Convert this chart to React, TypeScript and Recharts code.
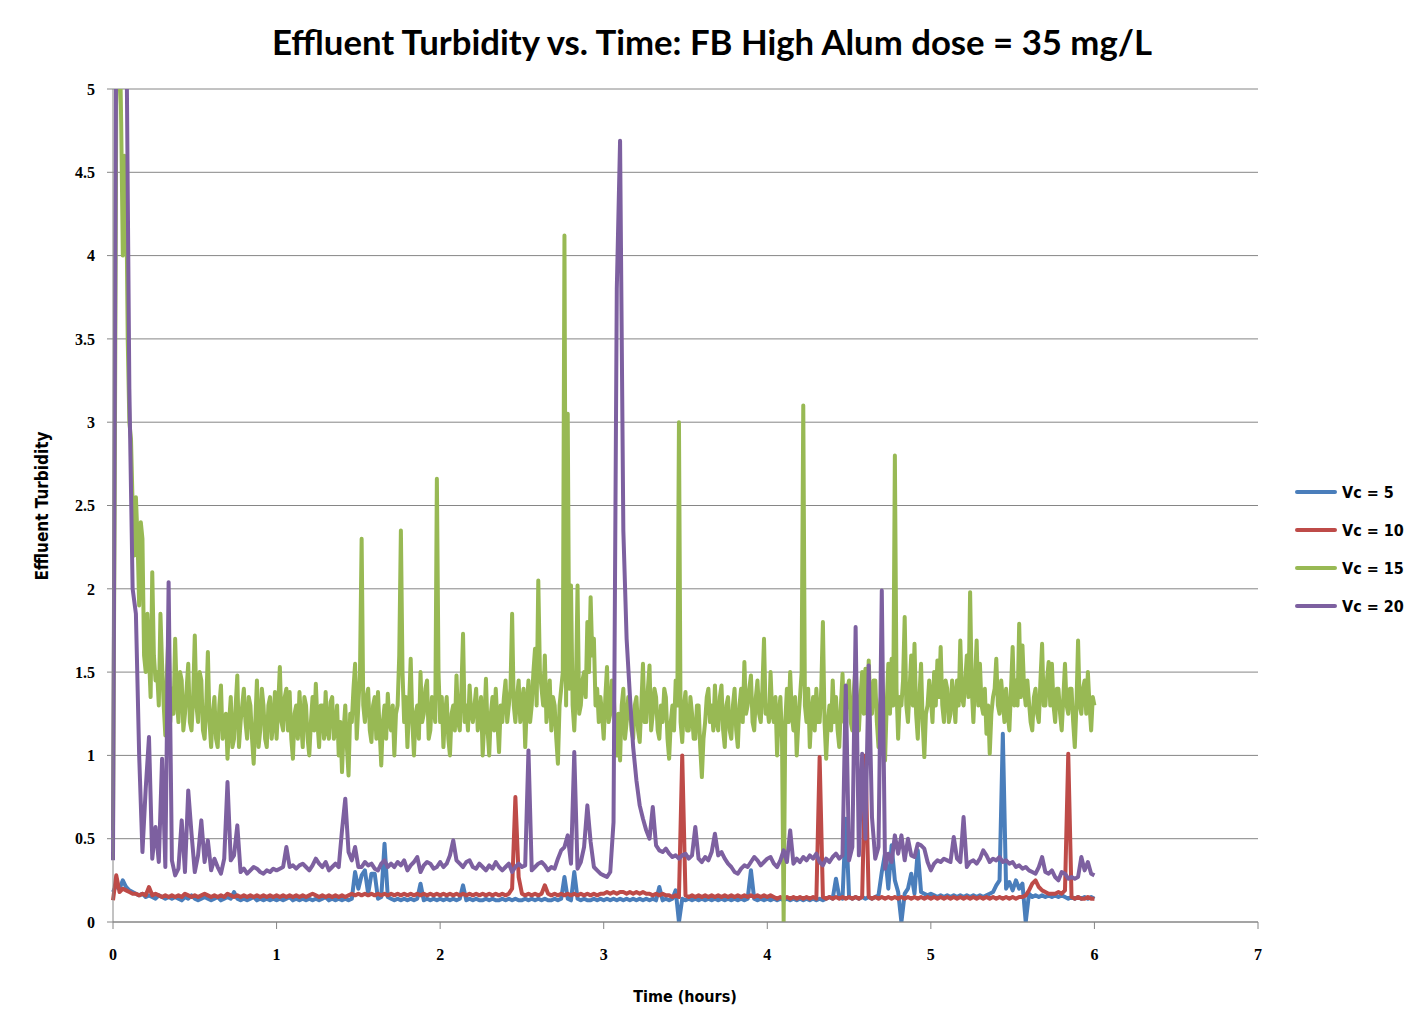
import { LineChart, Line, XAxis, YAxis, CartesianGrid, Legend } from 'recharts'

// Vc = 15 was logged every 0.01 h, the other runs every 0.02 h
const STEP_FINE = 0.01
const STEP = 0.02

const VC5 = [
  0.18, 0.22, 0.2, 0.25, 0.21, 0.19, 0.18, 0.17, 0.16, 0.17,
  0.15, 0.16, 0.15, 0.14, 0.16, 0.15, 0.14, 0.15, 0.14, 0.15,
  0.14, 0.13, 0.15, 0.14, 0.16, 0.14, 0.13, 0.14, 0.15, 0.14,
  0.13, 0.14, 0.15, 0.13, 0.14, 0.15, 0.14, 0.18, 0.14, 0.13,
  0.14, 0.13, 0.14, 0.15, 0.13, 0.14, 0.13, 0.14, 0.13, 0.14,
  0.13, 0.14, 0.13, 0.14, 0.15, 0.13, 0.14, 0.13, 0.14, 0.13,
  0.14, 0.13, 0.14, 0.13, 0.14, 0.15, 0.13, 0.14, 0.13, 0.14,
  0.13, 0.14, 0.13, 0.14, 0.3, 0.2, 0.28, 0.31, 0.17, 0.29,
  0.29, 0.14, 0.15, 0.47, 0.15, 0.14, 0.13, 0.14, 0.13, 0.14,
  0.13, 0.14, 0.13, 0.14, 0.23, 0.13, 0.14, 0.13, 0.14, 0.13,
  0.14, 0.13, 0.14, 0.13, 0.14, 0.13, 0.14, 0.22, 0.13, 0.14,
  0.13, 0.14, 0.13, 0.13, 0.14, 0.13, 0.14, 0.13, 0.13, 0.14,
  0.13, 0.14, 0.13, 0.14, 0.13, 0.13, 0.14, 0.13, 0.14, 0.13,
  0.14, 0.13, 0.14, 0.13, 0.13, 0.14, 0.13, 0.14, 0.27, 0.14,
  0.13, 0.3, 0.14, 0.13, 0.14, 0.13, 0.13, 0.14, 0.13, 0.14,
  0.13, 0.14, 0.13, 0.14, 0.13, 0.14, 0.13, 0.14, 0.13, 0.14,
  0.13, 0.14, 0.13, 0.14, 0.13, 0.14, 0.13, 0.21, 0.13, 0.14,
  0.13, 0.14, 0.19, 0.0, 0.14, 0.13, 0.14, 0.13, 0.14, 0.13,
  0.14, 0.13, 0.14, 0.13, 0.14, 0.13, 0.14, 0.13, 0.14, 0.13,
  0.14, 0.13, 0.14, 0.13, 0.14, 0.31, 0.14, 0.13, 0.14, 0.13,
  0.14, 0.13, 0.14, 0.13, 0.14, 0.13, 0.14, 0.13, 0.14, 0.13,
  0.14, 0.13, 0.14, 0.13, 0.14, 0.13, 0.14, 0.13, 0.14, 0.15,
  0.14, 0.26, 0.15, 0.14, 0.62, 0.15, 0.14, 0.15, 0.14, 0.15,
  0.14, 0.15, 0.14, 0.15, 0.16, 0.3, 0.41, 0.2, 0.46, 0.25,
  0.18, 0.0, 0.17, 0.2, 0.29, 0.17, 0.43, 0.18, 0.17, 0.16,
  0.17, 0.16, 0.15, 0.16, 0.15, 0.16, 0.15, 0.16, 0.15, 0.16,
  0.15, 0.16, 0.15, 0.16, 0.15, 0.16, 0.15, 0.16, 0.17, 0.18,
  0.22, 0.25, 1.13, 0.2, 0.24, 0.19, 0.25, 0.2, 0.23, 0.0,
  0.17, 0.15, 0.16, 0.15, 0.16, 0.15, 0.16, 0.15, 0.16, 0.15,
  0.16, 0.15, 0.14, 0.15, 0.14, 0.15, 0.14, 0.15, 0.14, 0.15,
  0.14,
]

const VC10 = [
  0.13, 0.28, 0.18, 0.2, 0.19, 0.18, 0.17, 0.17, 0.16, 0.17,
  0.16, 0.21, 0.16, 0.17, 0.16, 0.15, 0.16, 0.15, 0.16, 0.15,
  0.16, 0.15, 0.17, 0.16, 0.15, 0.16, 0.15, 0.16, 0.17, 0.16,
  0.15, 0.16, 0.15, 0.16, 0.15, 0.17, 0.16, 0.15, 0.16, 0.15,
  0.16, 0.15, 0.16, 0.15, 0.16, 0.15, 0.16, 0.15, 0.16, 0.15,
  0.16, 0.15, 0.16, 0.15, 0.16, 0.15, 0.16, 0.15, 0.16, 0.15,
  0.16, 0.17, 0.16, 0.15, 0.16, 0.15, 0.16, 0.15, 0.16, 0.15,
  0.16, 0.15, 0.16, 0.17, 0.16, 0.17, 0.16, 0.17, 0.16, 0.17,
  0.16, 0.17, 0.16, 0.17, 0.16, 0.17, 0.16, 0.17, 0.16, 0.17,
  0.16, 0.17, 0.16, 0.17, 0.16, 0.17, 0.16, 0.17, 0.16, 0.17,
  0.16, 0.17, 0.16, 0.17, 0.16, 0.17, 0.16, 0.17, 0.16, 0.17,
  0.16, 0.17, 0.16, 0.17, 0.16, 0.17, 0.16, 0.17, 0.16, 0.17,
  0.16, 0.17, 0.2, 0.75, 0.27, 0.17, 0.16, 0.17, 0.16, 0.17,
  0.16, 0.17, 0.22, 0.17, 0.16, 0.17, 0.16, 0.17, 0.16, 0.17,
  0.16, 0.17, 0.16, 0.17, 0.16, 0.17, 0.16, 0.17, 0.16, 0.17,
  0.17, 0.18, 0.17, 0.18, 0.17, 0.18, 0.18, 0.17, 0.18, 0.17,
  0.18, 0.17, 0.18, 0.17, 0.17, 0.16, 0.17, 0.16, 0.17, 0.16,
  0.16, 0.15, 0.16, 0.15, 1.0, 0.16, 0.15, 0.16, 0.15, 0.16,
  0.15, 0.16, 0.15, 0.16, 0.15, 0.16, 0.15, 0.16, 0.15, 0.16,
  0.15, 0.16, 0.15, 0.16, 0.15, 0.16, 0.15, 0.16, 0.15, 0.16,
  0.15, 0.16, 0.15, 0.14, 0.15, 0.14, 0.15, 0.14, 0.15, 0.14,
  0.15, 0.14, 0.15, 0.14, 0.15, 0.14, 0.99, 0.15, 0.14, 0.15,
  0.14, 0.15, 0.14, 0.15, 0.14, 0.15, 0.14, 0.15, 0.14, 0.15,
  1.0, 0.15, 0.14, 0.15, 0.14, 0.15, 0.14, 0.15, 0.14, 0.15,
  0.14, 0.15, 0.14, 0.15, 0.14, 0.15, 0.14, 0.15, 0.14, 0.15,
  0.14, 0.15, 0.14, 0.15, 0.14, 0.15, 0.14, 0.15, 0.14, 0.15,
  0.14, 0.15, 0.14, 0.15, 0.14, 0.15, 0.14, 0.15, 0.14, 0.15,
  0.14, 0.15, 0.14, 0.15, 0.14, 0.15, 0.14, 0.15, 0.15, 0.16,
  0.19, 0.23, 0.25, 0.21, 0.19, 0.18, 0.17, 0.17, 0.17, 0.18,
  0.17, 0.19, 1.01, 0.15, 0.14, 0.15, 0.14, 0.14, 0.15, 0.14,
  0.14,
]

// one row = 0.2 h
const VC15 = [
  0.55, 2.5, 4.9, 5.3, 5.4, 4.8, 4.0, 4.6, 4.5, 3.5, 3.0, 2.9, 2.5, 2.2, 2.55, 2.3, 1.9, 2.4, 2.3, 1.6,
  1.5, 1.85, 1.6, 1.35, 2.1, 1.6, 1.45, 1.5, 1.3, 1.85, 1.55, 1.3, 1.12, 1.5, 1.75, 1.2, 1.4, 1.25, 1.7, 1.35,
  1.2, 1.5, 1.45, 1.15, 1.25, 1.4, 1.55, 1.2, 1.15, 1.35, 1.72, 1.3, 1.2, 1.5, 1.45, 1.15, 1.1, 1.3, 1.62, 1.2,
  1.05, 1.25, 1.35, 1.1, 1.05, 1.3, 1.42, 1.1, 1.15, 1.25, 0.98, 1.2, 1.35, 1.05, 1.1, 1.3, 1.48, 1.05, 1.2, 1.3,
  1.4, 1.2, 1.1, 1.35, 1.3, 1.1, 0.95, 1.2, 1.45, 1.05, 1.15, 1.4, 1.3, 1.1, 1.05, 1.3, 1.35, 1.1, 1.2, 1.38,
  1.1, 1.3, 1.53, 1.2, 1.15, 1.35, 1.4, 1.15, 1.38, 1.1, 0.98, 1.25, 1.3, 1.1, 1.38, 1.2, 1.05, 1.35, 1.3, 1.1,
  1.0, 1.2, 1.35, 1.15, 1.43, 1.2, 1.05, 1.3, 1.3, 1.1, 1.38, 1.15, 1.1, 1.32, 1.35, 1.1, 1.15, 1.3, 1.0, 1.2,
  0.9, 1.15, 1.3, 1.05, 0.88, 1.25, 1.2, 1.4, 1.55, 1.1, 1.3, 1.5, 2.3, 1.3, 1.2, 1.35, 1.4, 1.15, 1.08, 1.3,
  1.35, 1.1, 1.38, 1.15, 0.94, 1.2, 1.3, 1.1, 1.37, 1.2, 1.15, 1.3, 1.0, 1.25, 1.3, 1.6, 2.35, 1.5, 1.2, 1.35,
  1.05, 1.3, 1.58, 1.2, 1.0, 1.25, 1.3, 1.1, 1.5, 1.2, 1.25, 1.4, 1.45, 1.1, 1.15, 1.35, 1.3, 1.2, 2.66, 1.5,
  1.2, 1.35, 1.05, 1.25, 1.35, 1.1, 1.0, 1.25, 1.3, 1.15, 1.48, 1.2, 1.15, 1.4, 1.73, 1.2, 1.3, 1.15, 1.42, 1.25,
  1.2, 1.3, 1.4, 1.15, 1.25, 1.35, 1.0, 1.2, 1.46, 1.15, 1.0, 1.25, 1.35, 1.15, 1.4, 1.2, 1.02, 1.3, 1.2, 1.35,
  1.45, 1.2, 1.3, 1.4, 1.85, 1.3, 1.2, 1.35, 1.45, 1.2, 1.3, 1.4, 1.05, 1.3, 1.45, 1.2, 1.3, 1.5, 1.64, 1.3,
  2.05, 1.5, 1.4, 1.3, 1.6, 1.2, 1.3, 1.45, 1.15, 1.35, 1.3, 1.1, 0.95, 1.3, 1.4, 1.5, 4.12, 1.3, 3.05, 1.4,
  2.02, 1.3, 1.15, 1.4, 2.02, 1.25, 1.3, 1.45, 1.5, 1.35, 1.8, 1.5, 1.95, 1.6, 1.7, 1.3, 1.4, 1.2, 1.35, 1.25,
  1.1, 1.35, 1.53, 1.2, 1.25, 1.45, 1.4, 1.15, 1.0, 1.25, 0.97, 1.3, 1.4, 1.1, 1.2, 1.35, 1.3, 1.15, 1.1, 1.3,
  1.35, 1.15, 1.08, 1.3, 1.55, 1.2, 1.2, 1.4, 1.54, 1.15, 1.25, 1.4, 1.35, 1.15, 1.1, 1.3, 1.2, 1.4, 1.35, 1.1,
  0.98, 1.2, 1.3, 1.15, 1.45, 1.3, 3.0, 1.2, 1.08, 1.3, 1.38, 1.15, 1.15, 1.35, 1.25, 1.1, 1.1, 1.3, 1.3, 1.05,
  0.87, 1.1, 1.2, 1.35, 1.4, 1.2, 1.3, 1.15, 1.42, 1.2, 1.15, 1.35, 1.42, 1.15, 1.05, 1.3, 1.35, 1.15, 1.1, 1.3,
  1.4, 1.15, 1.05, 1.3, 1.4, 1.2, 1.56, 1.25, 1.3, 1.4, 1.48, 1.2, 1.15, 1.35, 1.45, 1.25, 1.2, 1.4, 1.7, 1.25,
  1.3, 1.2, 1.5, 1.25, 1.2, 1.35, 1.0, 1.25, 1.35, 1.1, 0.0, 1.2, 1.4, 1.2, 1.5, 1.25, 1.15, 1.35, 1.0, 1.2,
  1.35, 1.5, 3.1, 1.3, 1.2, 1.4, 1.05, 1.25, 1.35, 1.15, 1.4, 1.2, 1.2, 1.4, 1.8, 1.2, 0.98, 1.2, 1.3, 1.15,
  1.45, 1.2, 1.35, 1.15, 1.05, 1.3, 1.49, 1.2, 1.25, 1.4, 1.45, 1.2, 1.15, 1.4, 1.55, 1.25, 1.15, 1.35, 1.5, 1.25,
  1.52, 1.25, 1.57, 1.3, 1.25, 1.45, 1.45, 1.2, 1.05, 1.3, 1.4, 1.15, 0.97, 1.3, 1.55, 1.25, 1.58, 1.3, 2.8, 1.4,
  1.1, 1.35, 1.3, 1.45, 1.83, 1.3, 1.2, 1.4, 1.6, 1.3, 1.67, 1.25, 1.1, 1.35, 1.55, 1.2, 0.99, 1.25, 1.3, 1.45,
  1.35, 1.2, 1.5, 1.3, 1.57, 1.35, 1.65, 1.3, 1.2, 1.45, 1.4, 1.2, 1.25, 1.45, 1.35, 1.2, 1.45, 1.3, 1.69, 1.35,
  1.3, 1.45, 1.6, 1.35, 1.98, 1.4, 1.2, 1.45, 1.69, 1.3, 1.55, 1.3, 1.25, 1.4, 1.13, 1.3, 1.01, 1.25, 1.35, 1.4,
  1.58, 1.3, 1.25, 1.45, 1.33, 1.2, 1.4, 1.25, 1.15, 1.4, 1.65, 1.3, 1.45, 1.3, 1.79, 1.35, 1.66, 1.4, 1.3, 1.45,
  1.32, 1.2, 1.15, 1.35, 1.4, 1.25, 1.2, 1.45, 1.67, 1.3, 1.3, 1.45, 1.56, 1.3, 1.55, 1.3, 1.2, 1.4, 1.4, 1.25,
  1.15, 1.35, 1.55, 1.3, 1.25, 1.4, 1.4, 1.2, 1.05, 1.3, 1.69, 1.3, 1.25, 1.4, 1.45, 1.25, 1.5, 1.3, 1.15, 1.35,
  1.3,
]

const VC20 = [
  0.37, 5.5, 6.0, 6.0, 5.6, 3.2, 2.0, 1.85, 1.0, 0.42,
  0.8, 1.11, 0.38, 0.57, 0.36, 0.98, 0.33, 2.04, 0.37, 0.28,
  0.32, 0.61, 0.3, 0.79, 0.53, 0.3, 0.4, 0.61, 0.36, 0.49,
  0.31, 0.38, 0.33, 0.29, 0.38, 0.84, 0.37, 0.4, 0.58, 0.3,
  0.32, 0.29, 0.31, 0.33, 0.32, 0.3, 0.29, 0.31, 0.3, 0.32,
  0.31, 0.32, 0.33, 0.45, 0.33, 0.34, 0.32, 0.34, 0.35, 0.33,
  0.31, 0.34, 0.38, 0.35, 0.33, 0.36, 0.31, 0.33, 0.35, 0.33,
  0.55, 0.74, 0.42, 0.37, 0.45, 0.33, 0.33, 0.36, 0.34, 0.35,
  0.32, 0.31, 0.35, 0.37, 0.33, 0.35, 0.33, 0.36, 0.34, 0.37,
  0.31, 0.34, 0.36, 0.39, 0.3, 0.34, 0.36, 0.35, 0.32, 0.33,
  0.36, 0.33, 0.35, 0.4, 0.49, 0.37, 0.35, 0.33, 0.36, 0.37,
  0.33, 0.32, 0.35, 0.33, 0.31, 0.34, 0.32, 0.36, 0.33, 0.31,
  0.33, 0.35, 0.3, 0.33, 0.35, 0.33, 0.34, 1.03, 0.31, 0.33,
  0.35, 0.36, 0.34, 0.31, 0.33, 0.32, 0.38, 0.43, 0.45, 0.52,
  0.35, 1.02, 0.32, 0.36, 0.45, 0.7, 0.48, 0.33, 0.31, 0.29,
  0.28, 0.27, 0.3, 0.6, 3.8, 4.69, 2.35, 1.7, 1.36, 1.05,
  0.85, 0.7, 0.62, 0.55, 0.5, 0.69, 0.46, 0.43, 0.42, 0.44,
  0.41, 0.39, 0.4, 0.38, 0.4, 0.41, 0.38, 0.4, 0.57, 0.38,
  0.36, 0.39, 0.37, 0.42, 0.53, 0.4, 0.42, 0.38, 0.35, 0.33,
  0.3, 0.29, 0.32, 0.34, 0.33, 0.36, 0.39, 0.37, 0.34, 0.36,
  0.38, 0.39, 0.35, 0.33, 0.37, 0.43, 0.36, 0.55, 0.35, 0.38,
  0.36, 0.39, 0.37, 0.4, 0.38, 0.41, 0.36, 0.34, 0.38, 0.36,
  0.39, 0.41, 0.38, 0.4, 1.42, 0.37, 0.45, 1.77, 0.4, 1.01,
  0.5, 1.54, 0.63, 0.38, 0.45, 1.99, 0.32, 0.41, 0.36, 0.52,
  0.41, 0.52, 0.37, 0.5, 0.4, 0.39, 0.47, 0.46, 0.44, 0.36,
  0.31, 0.35, 0.37, 0.36, 0.38, 0.37, 0.36, 0.51, 0.38, 0.36,
  0.63, 0.33, 0.36, 0.37, 0.35, 0.38, 0.43, 0.4, 0.36, 0.38,
  0.37, 0.39, 0.36, 0.37, 0.35, 0.36, 0.33, 0.34, 0.32, 0.33,
  0.31, 0.3, 0.29, 0.33, 0.39, 0.3, 0.29, 0.31, 0.27, 0.25,
  0.3, 0.29, 0.26, 0.27, 0.26, 0.27, 0.39, 0.31, 0.36, 0.29,
  0.28,
]

const SERIES = [
  { key: 'vc5', name: 'Vc = 5', color: '#4A7EBB', step: STEP, values: VC5 },
  { key: 'vc10', name: 'Vc = 10', color: '#BE4B48', step: STEP, values: VC10 },
  { key: 'vc15', name: 'Vc = 15', color: '#98B954', step: STEP_FINE, values: VC15 },
  { key: 'vc20', name: 'Vc = 20', color: '#7D60A0', step: STEP, values: VC20 },
]

const X_TICKS = [0, 1, 2, 3, 4, 5, 6, 7]
const Y_TICKS = [0, 0.5, 1, 1.5, 2, 2.5, 3, 3.5, 4, 4.5, 5]

const TITLE = 'Effluent Turbidity vs. Time: FB High Alum dose = 35 mg/L'

const toRows = (values: number[], step: number) =>
  values.map((v, i) => ({ t: Math.round(i * step * 100) / 100, v }))

const GRID = '#868686'
const LEGEND_W = 130
const serif = '"Liberation Serif", "DejaVu Serif", serif'
const labelFont = '"Liberation Sans Narrow", "DejaVu Sans Condensed", "DejaVu Sans", sans-serif'

function XTick({ x, y, payload }: any) {
  return (
    <text x={x} y={y} dy="0.71em" textAnchor="middle" fontFamily={serif} fontWeight={700} fontSize={16} fill="#000">
      {payload.value}
    </text>
  )
}

function YTick({ x, y, payload }: any) {
  return (
    <text x={x} y={y} dy="0.36em" textAnchor="end" fontFamily={serif} fontWeight={700} fontSize={16} fill="#000">
      {payload.value}
    </text>
  )
}

function LegendBox() {
  return (
    <div style={{ fontFamily: labelFont, fontWeight: 700, fontSize: 16, color: '#000' }}>
      {SERIES.map(s => (
        <div key={s.key} style={{ display: 'flex', alignItems: 'center', height: 38 }}>
          <div style={{ width: 42, height: 4, borderRadius: 2, background: s.color, marginRight: 5 }} />
          <span>{s.name}</span>
        </div>
      ))}
    </div>
  )
}

export default function App() {
  return (
    <div style={{ position: 'absolute', left: 0, top: 0, width: 1424, height: 1035, background: '#fff' }}>
      <svg width={1424} height={70} style={{ position: 'absolute', left: 0, top: 0 }}>
        <text
          x={712}
          y={55}
          textAnchor="middle"
          textLength={880}
          lengthAdjust="spacingAndGlyphs"
          style={{ fontFamily: 'Lato, sans-serif', fontWeight: 700, fontSize: 34, fill: '#000' }}
        >
          {TITLE}
        </text>
      </svg>
      <LineChart
        width={1424}
        height={1035}
        margin={{ top: 89, right: 166 - LEGEND_W, bottom: 53, left: 53 }}
      >
        <CartesianGrid vertical={false} stroke={GRID} strokeWidth={1} />
        <XAxis
          dataKey="t"
          type="number"
          domain={[0, 7]}
          ticks={X_TICKS}
          allowDuplicatedCategory={false}
          height={60}
          stroke={GRID}
          tickSize={7}
          tickMargin={20}
          tick={<XTick />}
          label={() => (
            <text
              x={685}
              y={1002}
              textAnchor="middle"
              style={{ fontFamily: labelFont, fontWeight: 700, fontSize: 16, fill: '#000' }}
            >
              Time (hours)
            </text>
          )}
        />
        <YAxis
          type="number"
          domain={[0, 5]}
          ticks={Y_TICKS}
          allowDataOverflow
          width={60}
          stroke={GRID}
          tickSize={6}
          tickMargin={12}
          tick={<YTick />}
          label={() => (
            <text
              x={48}
              y={506}
              textAnchor="middle"
              transform="rotate(-90 48 506)"
              style={{ fontFamily: labelFont, fontWeight: 700, fontSize: 17, fill: '#000' }}
            >
              Effluent Turbidity
            </text>
          )}
        />
        <Legend
          layout="vertical"
          align="right"
          verticalAlign="middle"
          content={() => <LegendBox />}
          wrapperStyle={{ left: 1295, top: 473, width: LEGEND_W }}
        />
        {SERIES.map(s => (
          <Line
            key={s.key}
            data={toRows(s.values, s.step)}
            dataKey="v"
            name={s.name}
            type="linear"
            stroke={s.color}
            strokeWidth={4}
            strokeLinejoin="round"
            dot={false}
            activeDot={false}
            isAnimationActive={false}
          />
        ))}
      </LineChart>
    </div>
  )
}
